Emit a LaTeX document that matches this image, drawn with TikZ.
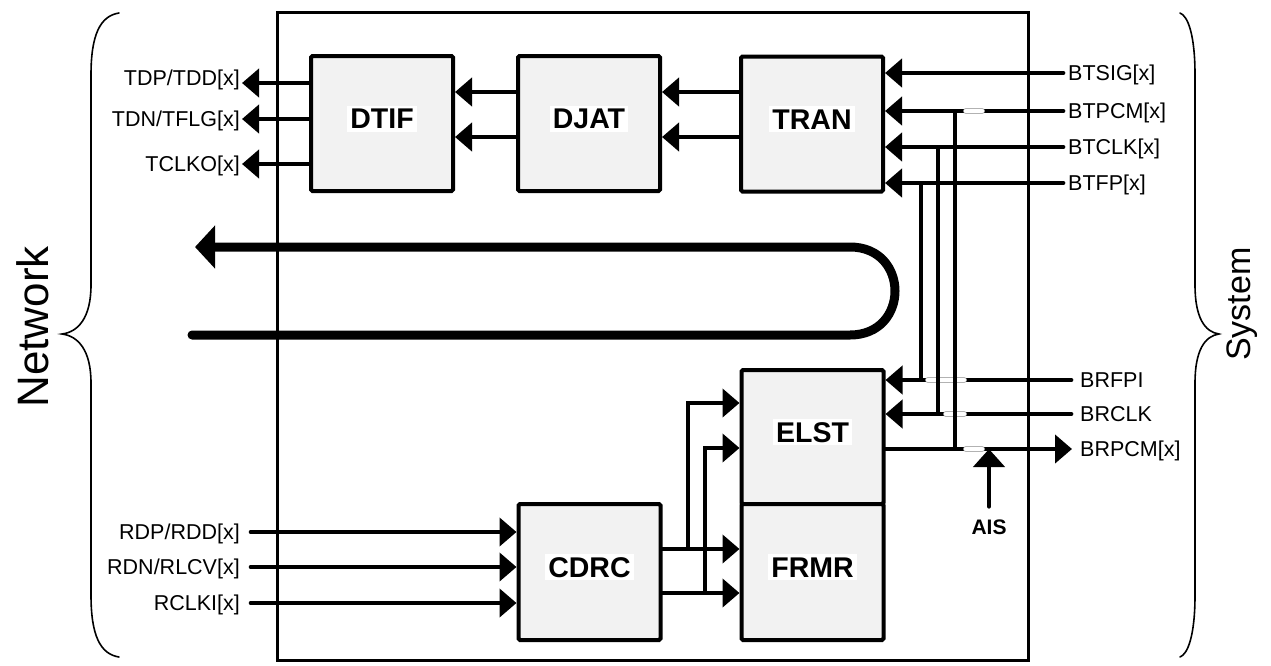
\documentclass[tikz,border=0pt]{standalone}
\usepackage{fontspec}
\setmainfont{Liberation Sans}
\usetikzlibrary{arrows.meta}
\setlength{\fboxsep}{3pt}
\begin{document}
\begin{tikzpicture}[x=1pt,y=-1pt,
  blk/.style={draw, line width=4pt, fill=gray!10, rounded corners=1.5pt, minimum width=142pt, inner sep=0pt,
    font=\fontsize{28.5}{30}\selectfont\bfseries, text height=23.4pt, text depth=13.4pt},
  lbl/.style={inner sep=0pt, font=\fontsize{21.5}{24}\selectfont, text height=15.4pt, text depth=0pt},
  lblL/.style={lbl, anchor=east},
  lblR/.style={lbl, anchor=west},
  sig/.style={line width=4.7pt, line cap=round},
  arr/.style={sig, -{Triangle[length=17pt,width=28pt]}},
  vert/.style={line width=4.7pt},
  hopo/.style={line width=5.7pt, gray!60, line cap=round},
  hopi/.style={line width=4.2pt, white, line cap=round},
  bracecurve/.style={line width=1.6pt, line cap=round},
]
\useasboundingbox (0,0) rectangle (1271,665);

% chip outline
\node[draw, line width=3pt, minimum width=751pt, minimum height=648pt, inner sep=0pt] (chip) at (652.5,336) {};

% blocks
\node[blk, minimum height=135pt] (dtif) at (382,123.5) {\colorbox{white}{DTIF}};
\node[blk, minimum height=135pt] (djat) at (589,123.5) {\colorbox{white}{DJAT}};
\node[blk, minimum height=135pt] (tran) at (812,124) {\colorbox{white}{TRAN}};
\node[blk, minimum height=134pt] (elst) at (812.5,437) {\colorbox{white}{ELST}};
\node[blk, minimum height=136pt] (frmr) at (812.5,572) {\colorbox{white}{FRMR}};
\node[blk, minimum height=136pt] (cdrc) at (589.5,572) {\colorbox{white}{CDRC}};

% left labels
\node[lblL, inner xsep=2pt] (tdp) at (242,78) {TDP/TDD[x]};
\node[lblL, inner xsep=2pt] (tdn) at (242,119) {TDN/TFLG[x]};
\node[lblL, inner xsep=2pt] (tclko) at (242,164) {TCLKO[x]};
\node[lblL, inner xsep=11pt] (rdp) at (251,532) {RDP/RDD[x]};
\node[lblL, inner xsep=11pt] (rdn) at (251,567) {RDN/RLCV[x]};
\node[lblL, inner xsep=11pt] (rclki) at (251,603) {RCLKI[x]};

% right labels
\node[lblR, inner xsep=5pt] (btsig) at (1063,73) {BTSIG[x]};
\node[lblR, inner xsep=5pt] (btpcm) at (1063,111) {BTPCM[x]};
\node[lblR, inner xsep=5pt] (btclk) at (1063,147) {BTCLK[x]};
\node[lblR, inner xsep=5pt] (btfp) at (1063,183) {BTFP[x]};
\node[lblR, inner xsep=9pt] (brfpi) at (1071,380) {BRFPI};
\node[lblR, inner xsep=9pt] (brclk) at (1071,414) {BRCLK};
\node[lblR, inner xsep=8pt] (brpcm) at (1072,449) {BRPCM[x]};

\node[inner sep=0pt, font=\fontsize{21}{24}\selectfont\bfseries, text height=15pt, text depth=0pt] (ais) at (989,527) {AIS};

% helper coordinates
\coordinate (tdpTip) at ([yshift=-5pt]tdp.east);
\coordinate (yA) at (0,92);
\coordinate (yB) at (0,137);
\coordinate (oA) at (0,549);
\coordinate (oB) at (0,593);
\coordinate (eA) at (0,403);
\coordinate (eB) at (0,448);
\coordinate (k1) at (688,549);
\coordinate (k2) at (705,593);
\coordinate (v1) at (921,0);
\coordinate (v2) at (938,0);
\coordinate (v3) at (955,0);

% DTIF outputs
\draw[arr] (dtif.west |- tdpTip) -- (tdpTip);
\draw[arr] (dtif.west |- tdn.east) -- (tdn.east);
\draw[arr] (dtif.west |- tclko.east) -- (tclko.east);

% internal transmit path
\draw[arr] (djat.west |- yA) -- (dtif.east |- yA);
\draw[arr] (djat.west |- yB) -- (dtif.east |- yB);
\draw[arr] (tran.west |- yA) -- (djat.east |- yA);
\draw[arr] (tran.west |- yB) -- (djat.east |- yB);

% system transmit inputs
\draw[arr] (btsig.west) -- (tran.east |- btsig.west);
\draw[arr] (btpcm.west) -- (tran.east |- btpcm.west);
\draw[arr] (btclk.west) -- (tran.east |- btclk.west);
\draw[arr] (btfp.west) -- (tran.east |- btfp.west);

% system receive
\draw[arr] (brfpi.west) -- (elst.east |- brfpi.west);
\draw[arr] (brclk.west) -- (elst.east |- brclk.west);
\draw[arr] (elst.east |- brpcm.west) -- (brpcm.west);

% line hops
\draw[hopo] (966,111) -- (982,111); \draw[hopi] (966,111) -- (982,111);
\draw[hopo] (928,380) -- (964,380); \draw[hopi] (928,380) -- (964,380);
\draw[hopo] (946,414) -- (964,414); \draw[hopi] (946,414) -- (964,414);
\draw[hopo] (966,449) -- (982,449); \draw[hopi] (966,449) -- (982,449);

% verticals
\draw[vert] (v1 |- btfp.west) -- (v1 |- brfpi.west);
\draw[vert] (v2 |- btclk.west) -- (v2 |- brclk.west);
\draw[vert] (v3 |- btpcm.west) -- (v3 |- brpcm.west);

% AIS
\draw[sig, -{Triangle[length=18pt,width=31pt]}] ([yshift=13pt]ais.north) -- (ais.north |- brpcm.west);

% CDRC inputs
\draw[arr] (rdp.east) -- (cdrc.west |- rdp.east);
\draw[arr] (rdn.east) -- (cdrc.west |- rdn.east);
\draw[arr] (rclki.east) -- (cdrc.west |- rclki.east);

% CDRC outputs
\draw[arr] (cdrc.east |- oA) -- (frmr.west |- oA);
\draw[arr] (cdrc.east |- oB) -- (frmr.west |- oB);
\draw[arr, line cap=butt] (k1) |- (elst.west |- eA);
\draw[arr, line cap=butt] (k2) |- (elst.west |- eB);

% loopback
\coordinate (lpS) at (192,335);
\coordinate (lpE) at (195,247);
\draw[line width=9pt, line cap=round, -{Triangle[length=20pt,width=42pt]}]
  (lpS) -- (850,335) .. controls (910,335) and (910,247) .. (850,247) -- (lpE);

% braces
\draw[bracecurve] (119,13) .. controls (100,16) and (91,35) .. (91,75) -- (91,285)
  .. controls (91,318) and (78,332) .. (62,334)
  .. controls (78,336) and (91,350) .. (91,383) -- (91,595)
  .. controls (91,635) and (100,654) .. (119,657);
\draw[bracecurve] (1180,13) .. controls (1188,16) and (1195,35) .. (1195,75) -- (1195,285)
  .. controls (1195,318) and (1205,332) .. (1219,334)
  .. controls (1205,336) and (1195,350) .. (1195,383) -- (1195,595)
  .. controls (1195,635) and (1188,654) .. (1180,657);

\node[rotate=90, inner sep=0pt, font=\fontsize{44}{48}\selectfont, text height=31.5pt, text depth=0pt] (net) at (33,327) {Network};
\node[rotate=90, inner sep=0pt, font=\fontsize{34}{38}\selectfont, text height=24.3pt, text depth=0pt] (sys) at (1238,304) {System};
\end{tikzpicture}
\end{document}
